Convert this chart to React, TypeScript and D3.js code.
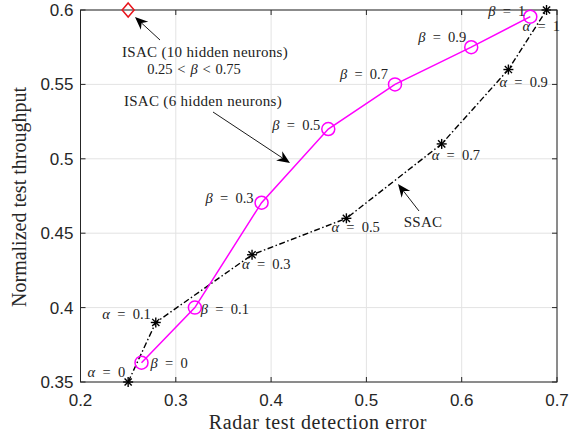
import React from "react";
import * as d3 from "d3";

const width = 579;
const height = 434;
const margin = {left: 80.5, right: 22, top: 10, bottom: 52};

// ISAC (6 hidden neurons)
const isacX = [0.264, 0.32, 0.39, 0.46, 0.53, 0.61, 0.672];
const isacY = [0.363, 0.40, 0.4705, 0.52, 0.55, 0.575, 0.5955];
const betaLabels = ["0", "0.1", "0.3", "0.5", "0.7", "0.9", "1"];

// SSAC
const ssacX = [0.25, 0.279, 0.38, 0.479, 0.579, 0.649, 0.689];
const ssacY = [0.35, 0.39, 0.4355, 0.46, 0.51, 0.56, 0.60];
const alphaLabels = ["0", "0.1", "0.3", "0.5", "0.7", "0.9", "1"];

// ISAC (10 hidden neurons)
const isac10X = [0.25];
const isac10Y = [0.6];

const xTicks = [0.2, 0.3, 0.4, 0.5, 0.6, 0.7];
const yTicks = [0.35, 0.4, 0.45, 0.5, 0.55, 0.6];

const serif = "'Liberation Serif', 'DejaVu Serif', serif";
const sans = "'Liberation Sans', Arial, sans-serif";
const annSize = 14.5;

// label offsets relative to marker (px), with anchor
const betaPos: [number, number, string][] = [
    [9, 5, "start"], [6, 6, "start"], [-8, 0, "end"], [-8, 1, "end"],
    [-7, -5, "end"], [-5, -5, "end"], [-5, -1, "end"]
];
const alphaPos: [number, number, string][] = [
    [-3, -5, "end"], [-5, -3, "end"], [-10, 14, "start"], [-15, 14, "start"],
    [-10, 16, "start"], [-9, 17, "start"], [-24, 21, "start"]
];

function Arrow({x1, y1, x2, y2}: {x1: number; y1: number; x2: number; y2: number}) {
    const ang = Math.atan2(y2 - y1, x2 - x1);
    const L = 13, W = 5.5, back = 9;
    const p = (d: number, w: number) => [
        x2 - d * Math.cos(ang) - w * Math.sin(ang),
        y2 - d * Math.sin(ang) + w * Math.cos(ang)
    ];
    const a = p(L, W), b = p(back, 0), c = p(L, -W);
    return (
        <g>
            <line x1={x1} y1={y1} x2={b[0]} y2={b[1]} stroke="#000" strokeWidth={0.9}/>
            <path d={`M${x2},${y2}L${a[0]},${a[1]}L${b[0]},${b[1]}L${c[0]},${c[1]}Z`} fill="#000"/>
        </g>
    );
}

function Star({x, y}: {x: number; y: number}) {
    const r = 5;
    return (
        <g stroke="#000" strokeWidth={1.4}>
            <line x1={x - r} y1={y} x2={x + r} y2={y}/>
            <line x1={x} y1={y - r} x2={x} y2={y + r}/>
            <line x1={x - r * 0.72} y1={y - r * 0.72} x2={x + r * 0.72} y2={y + r * 0.72}/>
            <line x1={x - r * 0.72} y1={y + r * 0.72} x2={x + r * 0.72} y2={y - r * 0.72}/>
        </g>
    );
}

function Eq({sym, val, x, y, anchor}: {sym: string; val: string; x: number; y: number; anchor: string}) {
    return (
        <text x={x} y={y} textAnchor={anchor} fontFamily={serif} fontSize={annSize} fill="#222">
            <tspan fontStyle="italic">{sym}</tspan>{"\u2002=\u2002" + val}
        </text>
    );
}

export default function App() {
    const x = d3.scaleLinear().domain([0.2, 0.7]).range([margin.left, width - margin.right]);
    const y = d3.scaleLinear().domain([0.35, 0.6]).range([height - margin.bottom, margin.top]);
    const line = d3.line<[number, number]>().x(d => x(d[0])).y(d => y(d[1]));
    const isac = isacX.map((v, i) => [v, isacY[i]] as [number, number]);
    const ssac = ssacX.map((v, i) => [v, ssacY[i]] as [number, number]);
    const [x0, x1] = x.range();
    const [y0, y1] = y.range();

    return (
        <svg width={width} height={height} style={{position: "absolute", left: 0, top: 0, background: "#fff"}}>
            {/* grid */}
            {xTicks.map(t => <line key={"gx" + t} x1={x(t)} x2={x(t)} y1={y0} y2={y1} stroke="#e3e3e3" strokeWidth={1}/>)}
            {yTicks.map(t => <line key={"gy" + t} x1={x0} x2={x1} y1={y(t)} y2={y(t)} stroke="#e3e3e3" strokeWidth={1}/>)}

            {/* box */}
            <rect x={x0} y={y1} width={x1 - x0} height={y0 - y1} fill="none" stroke="#262626" strokeWidth={1}/>
            {xTicks.map(t => (
                <g key={"tx" + t}>
                    <line x1={x(t)} x2={x(t)} y1={y0} y2={y0 - 5} stroke="#262626"/>
                    <line x1={x(t)} x2={x(t)} y1={y1} y2={y1 + 5} stroke="#262626"/>
                    <text x={x(t)} y={y0 + 24} textAnchor="middle" fontFamily={sans} fontSize={17} fill="#262626">{t}</text>
                </g>
            ))}
            {yTicks.map(t => (
                <g key={"ty" + t}>
                    <line x1={x0} x2={x0 + 5} y1={y(t)} y2={y(t)} stroke="#262626"/>
                    <line x1={x1} x2={x1 - 5} y1={y(t)} y2={y(t)} stroke="#262626"/>
                    <text x={x0 - 7} y={y(t) + 6} textAnchor="end" fontFamily={sans} fontSize={17} fill="#262626">{t}</text>
                </g>
            ))}

            <text x={318} y={height - 5} textAnchor="middle" fontFamily={serif} fontSize={20} letterSpacing={0.6} fill="#262626">Radar test detection error</text>
            <text transform={`translate(26,197) rotate(-90)`} textAnchor="middle" fontFamily={serif} fontSize={20} fill="#262626">Normalized test throughput</text>

            {/* SSAC */}
            <path d={line(ssac) || ""} fill="none" stroke="#000" strokeWidth={1.4} strokeDasharray="6,2.5,1.5,2.5"/>
            {ssac.map((d, i) => <Star key={"s" + i} x={x(d[0])} y={y(d[1])}/>)}

            {/* ISAC 6 */}
            <path d={line(isac) || ""} fill="none" stroke="#ff00ff" strokeWidth={1.5}/>
            {isac.map((d, i) => <circle key={"c" + i} cx={x(d[0])} cy={y(d[1])} r={6.5} fill="none" stroke="#ff00ff" strokeWidth={1.5}/>)}

            {/* ISAC 10 */}
            {isac10X.map((v, i) => {
                const cx = x(v), cy = y(isac10Y[i]);
                return <path key={"d" + i} d={`M${cx},${cy - 7}L${cx + 6},${cy}L${cx},${cy + 7}L${cx - 6},${cy}Z`} fill="none" stroke="#e8141c" strokeWidth={1.5}/>;
            })}

            {/* point labels */}
            {isac.map((d, i) => (
                <Eq key={"bl" + i} sym="β" val={betaLabels[i]} x={x(d[0]) + betaPos[i][0]} y={y(d[1]) + betaPos[i][1]} anchor={betaPos[i][2]}/>
            ))}
            {ssac.map((d, i) => (
                <Eq key={"al" + i} sym="α" val={alphaLabels[i]} x={x(d[0]) + alphaPos[i][0]} y={y(d[1]) + alphaPos[i][1]} anchor={alphaPos[i][2]}/>
            ))}

            {/* annotations */}
            <text x={205} y={57} textAnchor="middle" fontFamily={serif} fontSize={15} letterSpacing={0.3} fill="#222">ISAC (10 hidden neurons)</text>
            <text x={194} y={74} textAnchor="middle" fontFamily={serif} fontSize={annSize} fill="#222">
                {"0.25\u2004<\u2004"}<tspan fontStyle="italic">β</tspan>{"\u2004<\u20040.75"}
            </text>
            <Arrow x1={160} y1={40} x2={135} y2={17}/>

            <text x={203} y={106} textAnchor="middle" fontFamily={serif} fontSize={15} letterSpacing={0.3} fill="#222">ISAC (6 hidden neurons)</text>
            <Arrow x1={213} y1={112} x2={290} y2={163}/>

            <text x={423} y={227} textAnchor="middle" fontFamily={serif} fontSize={15} letterSpacing={0.3} fill="#222">SSAC</text>
            <Arrow x1={419} y1={211} x2={398} y2={184}/>
        </svg>
    );
}
